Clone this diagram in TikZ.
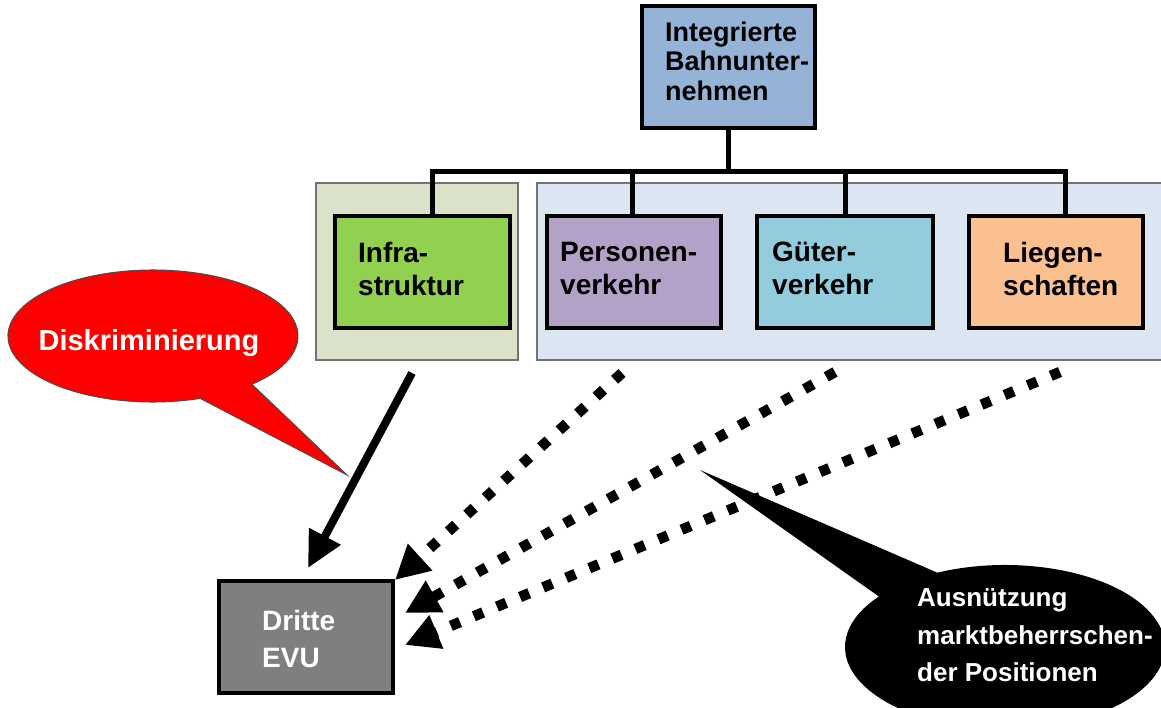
\documentclass[tikz,border=0pt]{standalone}
\usepackage{fontspec}
\setmainfont{Liberation Sans}
\usetikzlibrary{arrows.meta,calc}
\definecolor{topblue}{HTML}{95B3D7}
\definecolor{infragreen}{HTML}{92D050}
\definecolor{persviolet}{HTML}{B3A2C7}
\definecolor{gutcyan}{HTML}{93CDDD}
\definecolor{liegorange}{HTML}{FAC090}
\definecolor{grpgreen}{HTML}{DAE3C9}
\definecolor{grpblue}{HTML}{DCE6F2}
\definecolor{evugray}{HTML}{7F7F7F}
\definecolor{calloutred}{HTML}{FF0000}
\begin{document}
\begin{tikzpicture}[x=1pt,y=-1pt,
  box/.style={draw=black,line width=3.5pt,minimum height=112pt,inner sep=0pt,outer sep=0pt},
  grp/.style={draw=black!55,line width=1.2pt,inner sep=0pt,outer sep=0pt,minimum height=177pt},
  txt/.style={anchor=north west,inner sep=0pt,align=left,font=\bfseries\fontsize{28}{33}\selectfont},
  tree/.style={line width=5pt},
  solidarr/.style={line width=8pt,-{Triangle[length=36pt,width=34pt]}},
  dotarr/.style={line width=10.5pt,dash pattern=on 10pt off 15pt,-{Triangle[length=34pt,width=34pt]}}
]
\useasboundingbox (0,0) rectangle (1161,708);

% group backgrounds
\node[grp,fill=grpgreen,minimum width=202pt] (ggreen) at (417,271.5) {};
\node[grp,fill=grpblue,minimum width=640pt] (gblue) at (857,271.5) {};

% boxes
\node[box,fill=topblue,minimum width=173pt,minimum height=122pt] (top) at (728.5,67) {};
\node[box,fill=infragreen,minimum width=175pt] (infra) at (422.5,272) {};
\node[box,fill=persviolet,minimum width=174pt] (pers) at (634,272) {};
\node[box,fill=gutcyan,minimum width=176pt] (gut) at (845,272) {};
\node[box,fill=liegorange,minimum width=174pt] (lieg) at (1056,272) {};
\node[box,fill=evugray,minimum width=174pt] (evu) at (306,637) {};

% box texts
\node[txt,font=\bfseries\fontsize{27}{29.5}\selectfont] (topT) at (665,21.5) {Integrierte\\Bahnunter-\\nehmen};
\node[txt] (infraT) at (358,242) {Infra-\\struktur};
\node[txt] (persT) at (560,242) {Personen-\\verkehr};
\node[txt] (gutT) at (772,242) {Güter-\\verkehr};
\node[txt] (liegT) at (1003,242) {Liegen-\\schaften};
\node[txt,text=white,font=\bfseries\fontsize{28}{37}\selectfont] (evuT) at (262,610) {Dritte\\EVU};

% tree connectors
\coordinate (bus) at (0,172);
\coordinate (d1) at ([xshift=9.5pt]infra.north);
\coordinate (d2) at ([xshift=-2pt]pers.north);
\coordinate (d3) at (gut.north);
\coordinate (d4) at ([xshift=9pt]lieg.north);
\draw[tree] (top.south) -- (top.south |- bus);
\draw[tree,line join=miter] (d1) -- (d1 |- bus) -- (d4 |- bus) -- (d4);
\draw[tree] (d2) -- (d2 |- bus);
\draw[tree] (d3) -- (d3 |- bus);

% arrows to Dritte EVU
\coordinate (s0) at (412,373);
\coordinate (s1) at (622,373);
\coordinate (s2) at (835,372);
\coordinate (s3) at (1060,372);
\draw[solidarr] (s0) -- ($(evu.north)+(2,-13)$);
\draw[dotarr] (s1) -- ($(evu.north east)+(2,-1)$);
\draw[dotarr] (s2) -- ($(evu.north east)+(12,32)$);
\draw[dotarr] (s3) -- ($(evu.north east)+(12,64)$);

% callouts
\filldraw[fill=calloutred,draw=black!70,line width=1pt]
  (153,336) ++(71:145 and 66) arc[start angle=71,end angle=407,x radius=145,y radius=66]
  -- (347,475) -- cycle;
\node[inner sep=0pt,anchor=base,text=white,font=\bfseries\fontsize{29}{33}\selectfont] (diskT) at (149,350) {Diskriminierung};

\fill[black]
  (1005,647) ++(245:160 and 82) arc[start angle=245,end angle=578,x radius=160,y radius=82]
  -- (700,470) -- cycle;
\node[txt,text=white,font=\bfseries\fontsize{26}{37.5}\selectfont] (ausT) at (917,588.4) {Ausnützung\\marktbeherrschen-\\der Positionen};
\end{tikzpicture}
\end{document}
